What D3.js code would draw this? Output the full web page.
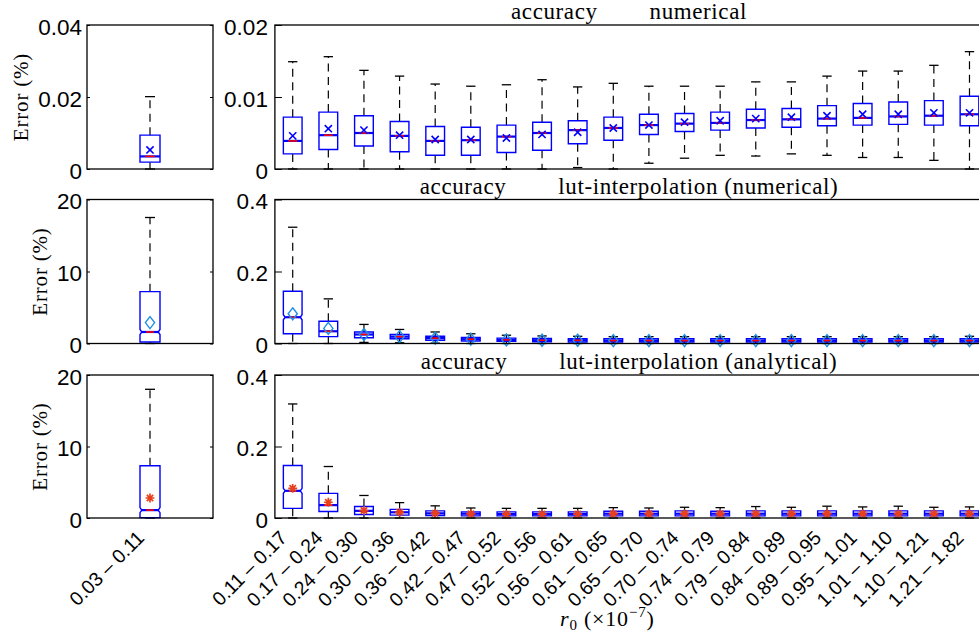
<!DOCTYPE html>
<html><head><meta charset="utf-8">
<script src="https://cdn.jsdelivr.net/npm/d3@7"></script>
<style>body{margin:0;background:#fff;overflow:hidden} svg{display:block}</style>
</head><body><svg id="c" width="979" height="635"></svg>
<script>
// ---------- data ----------
const categories = ["0.11 – 0.17","0.17 – 0.24","0.24 – 0.30","0.30 – 0.36","0.36 – 0.42","0.42 – 0.47","0.47 – 0.52","0.52 – 0.56","0.56 – 0.61","0.61 – 0.65","0.65 – 0.70","0.70 – 0.74","0.74 – 0.79","0.79 – 0.84","0.84 – 0.89","0.89 – 0.95","0.95 – 1.01","1.01 – 1.10","1.10 – 1.21","1.21 – 1.82"];
const leftCategories = ["0.03 – 0.11"];
const methods = ["numerical", "lut-interpolation (numerical)", "lut-interpolation (analytical)"];

// row 1: numerical (right panel)
const numUpper  = [0.0149,0.0156,0.0137,0.0129,0.0118,0.0115,0.0117,0.0124,0.0114,0.0119,0.0115,0.0115,0.0115,0.0121,0.0121,0.0129,0.0136,0.0136,0.0144,0.0163];
const numQ3     = [0.0072,0.0079,0.0074,0.0066,0.0059,0.0058,0.0061,0.0065,0.0067,0.0072,0.0076,0.0077,0.0079,0.0083,0.0084,0.0088,0.0091,0.0093,0.0095,0.0101];
const numMedian = [0.0039,0.0047,0.0050,0.0046,0.0039,0.0040,0.0045,0.0050,0.0054,0.0057,0.0061,0.0063,0.0064,0.0068,0.0069,0.0070,0.0071,0.0073,0.0074,0.0076];
const numQ1     = [0.0021,0.0027,0.0032,0.0024,0.0019,0.0019,0.0023,0.0026,0.0035,0.0040,0.0048,0.0052,0.0054,0.0057,0.0058,0.0060,0.0061,0.0062,0.0061,0.0060];
const numLower  = [0,0,0,0,0,0,0,0,0.0002,0,0.0008,0.0015,0.0019,0.0018,0.0021,0.0019,0.0016,0.0016,0.0012,0];
const numMean   = [0.0046,0.0056,0.0054,0.0047,0.0041,0.0041,0.0043,0.0048,0.0051,0.0057,0.0061,0.0065,0.0067,0.0070,0.0072,0.0074,0.0076,0.0076,0.0078,0.0078];
// row 1: left panel [upper, q3, median, q1, lower, mean]
const numLeft = [0.0201, 0.0094, 0.0035, 0.0019, 0, 0.0053];

// row 2: lut-interpolation (numerical)
const lutNumUpper  = [0.323,0.124,0.053,0.039,0.032,0.027,0.023,0.021,0.020,0.019,0.019,0.019,0.019,0.019,0.019,0.019,0.019,0.019,0.019,0.020];
const lutNumQ3     = [0.145,0.062,0.032,0.025,0.020,0.017,0.015,0.014,0.013,0.013,0.013,0.013,0.013,0.013,0.013,0.013,0.013,0.013,0.013,0.013];
const lutNumMedian = [0.073,0.034,0.025,0.019,0.015,0.012,0.010,0.009,0.009,0.008,0.008,0.008,0.008,0.008,0.008,0.008,0.008,0.008,0.008,0.008];
const lutNumQ1     = [0.027,0.019,0.016,0.013,0.009,0.007,0.006,0.005,0.004,0.004,0.004,0.004,0.004,0.004,0.004,0.004,0.004,0.004,0.004,0.004];
const lutNumLower  = [0,0,0.003,0.002,0.001,0,0,0,0,0,0,0,0,0,0,0,0,0,0,0];
const lutNumMean   = [0.0825,0.042,0.025,0.019,0.015,0.012,0.010,0.009,0.009,0.008,0.008,0.008,0.008,0.008,0.008,0.008,0.008,0.008,0.008,0.008];
const lutNumLeft = [17.5, 7.2, 1.6, 0.2, 0, 2.9];

// row 3: lut-interpolation (analytical)
const lutAnaUpper  = [0.319,0.144,0.063,0.043,0.034,0.028,0.027,0.027,0.027,0.029,0.028,0.030,0.029,0.032,0.030,0.033,0.031,0.033,0.030,0.031];
const lutAnaQ3     = [0.147,0.069,0.032,0.024,0.020,0.017,0.017,0.017,0.017,0.019,0.019,0.020,0.019,0.020,0.020,0.020,0.020,0.020,0.020,0.020];
const lutAnaMedian = [0.076,0.036,0.020,0.016,0.013,0.012,0.011,0.011,0.011,0.012,0.012,0.012,0.012,0.012,0.012,0.012,0.012,0.012,0.012,0.012];
const lutAnaQ1     = [0.027,0.018,0.010,0.008,0.007,0.006,0.006,0.006,0.006,0.006,0.006,0.006,0.006,0.006,0.006,0.006,0.006,0.006,0.006,0.006];
const lutAnaLower  = [0,0,0,0,0,0,0,0,0,0,0,0,0,0,0,0,0,0,0,0];
const lutAnaMean   = [0.083,0.044,0.021,0.016,0.013,0.012,0.011,0.011,0.011,0.012,0.012,0.012,0.012,0.012,0.012,0.012,0.012,0.012,0.012,0.012];
const lutAnaLeft = [18.0, 7.3, 1.1, 0.05, 0, 2.8];

const leftTicks  = [[0,0.02,0.04],[0,10,20],[0,10,20]];
const rightTicks = [[0,0.01,0.02],[0,0.2,0.4],[0,0.2,0.4]];

// ---------- build ----------
const svg = d3.select("#c");
const BLUE = "#0000ff", RED = "#ff0000", DIAM = "#1f8fe6", AST = "#e8401c";
const SANS = "'Liberation Sans', Arial, sans-serif";
const SERIF = "'Liberation Serif', 'Times New Roman', serif";

const rows = [
  {top:25,   bottom:169, marker:"x",   notch:false, method:methods[0],
   right:[numUpper,numQ3,numMedian,numQ1,numLower,numMean], left:numLeft},
  {top:199.5,bottom:343.5, marker:"d", notch:true, method:methods[1],
   right:[lutNumUpper,lutNumQ3,lutNumMedian,lutNumQ1,lutNumLower,lutNumMean], left:lutNumLeft},
  {top:375,  bottom:518, marker:"*",   notch:true, method:methods[2],
   right:[lutAnaUpper,lutAnaQ3,lutAnaMedian,lutAnaQ1,lutAnaLower,lutAnaMean], left:lutAnaLeft}
];

const xR = d3.scaleBand().domain(categories).range([274.9, 987.3]).padding(0);
const xL = d3.scaleBand().domain(leftCategories).range([87, 213]).padding(0);
const fmt = d => d === 0 ? "0" : String(d);

function drawMarker(g, type, cx, cy) {
  if (type === "x") {
    const r = 3.6;
    g.append("path").attr("d", `M${cx-r},${cy-r}L${cx+r},${cy+r}M${cx-r},${cy+r}L${cx+r},${cy-r}`)
      .attr("stroke", BLUE).attr("stroke-width", 1.6).attr("fill", "none");
  } else if (type === "d") {
    const rx = 4.6, ry = 6;
    g.append("path").attr("d", `M${cx},${cy-ry}L${cx+rx},${cy}L${cx},${cy+ry}L${cx-rx},${cy}Z`)
      .attr("stroke", DIAM).attr("stroke-width", 1.4).attr("fill", "none");
  } else {
    const r = 4.4, r2 = r*0.72;
    g.append("path").attr("d", `M${cx},${cy-r}L${cx},${cy+r}M${cx-r},${cy}L${cx+r},${cy}M${cx-r2},${cy-r2}L${cx+r2},${cy+r2}M${cx-r2},${cy+r2}L${cx+r2},${cy-r2}`)
      .attr("stroke", AST).attr("stroke-width", 1.7).attr("fill", "none");
  }
}

function drawBox(g, cx, w, y, s, row) {
  const [up, q3, med, q1, lo, mean] = s;
  const capW = w * 0.5;
  const dash = "8,5.5";
  g.append("line").attr("x1", cx).attr("x2", cx).attr("y1", y(q3)).attr("y2", y(up))
    .attr("stroke", "#000").attr("stroke-width", 1.2).attr("stroke-dasharray", dash);
  g.append("line").attr("x1", cx).attr("x2", cx).attr("y1", y(q1)).attr("y2", y(lo))
    .attr("stroke", "#000").attr("stroke-width", 1.2).attr("stroke-dasharray", dash);
  g.append("line").attr("x1", cx-capW/2).attr("x2", cx+capW/2).attr("y1", y(up)).attr("y2", y(up))
    .attr("stroke", "#000").attr("stroke-width", 1.3);
  g.append("line").attr("x1", cx-capW/2).attr("x2", cx+capW/2).attr("y1", y(lo)).attr("y2", y(lo))
    .attr("stroke", "#000").attr("stroke-width", 1.3);
  const xl = cx - w/2, xr = cx + w/2;
  const yt = y(q3), yb = y(q1), ym = y(med);
  let ni = 0;
  let d;
  if (row.notch && (yb - yt) > 30) {
    const nh = Math.min(2.5, ym - yt, yb - ym);
    ni = 1.8;
    d = `M${xl},${yb}L${xl},${ym+nh}L${xl+ni},${ym}L${xl},${ym-nh}L${xl},${yt}L${xr},${yt}L${xr},${ym-nh}L${xr-ni},${ym}L${xr},${ym+nh}L${xr},${yb}Z`;
  } else {
    d = `M${xl},${yb}L${xl},${yt}L${xr},${yt}L${xr},${yb}Z`;
  }
  g.append("path").attr("d", d).attr("fill", "none").attr("stroke", BLUE).attr("stroke-width", 1.4);
  g.append("line").attr("x1", xl+ni).attr("x2", xr-ni).attr("y1", ym).attr("y2", ym)
    .attr("stroke", BLUE).attr("stroke-width", 2.2);
  const rw = (w - 2*ni) * 0.48;
  g.append("line").attr("x1", cx-rw/2).attr("x2", cx+rw/2).attr("y1", ym).attr("y2", ym)
    .attr("stroke", RED).attr("stroke-width", 1.6);
  drawMarker(g, row.marker, cx, y(mean));
}

function styleAxisText(sel) {
  sel.selectAll("text").attr("font-family", SANS).attr("font-size", 22.5).attr("fill", "#000").attr("dy", "0.42em");
  sel.selectAll("line").attr("stroke", "#000").attr("stroke-width", 1);
  sel.select(".domain").remove();
}

rows.forEach((row, i) => {
  const yl = d3.scaleLinear().domain([0, leftTicks[i][2]]).range([row.bottom, row.top]);
  const gl = svg.append("g");
  drawBox(gl, xL(leftCategories[0]) + xL.bandwidth()/2, 20, yl, row.left, row);
  gl.append("g").attr("transform", `translate(87,0)`)
    .call(d3.axisLeft(yl).tickValues(leftTicks[i]).tickFormat(fmt).tickSizeInner(-3).tickSizeOuter(0).tickPadding(5))
    .call(styleAxisText);
  gl.append("g").attr("transform", `translate(213,0)`)
    .call(d3.axisRight(yl).tickValues(leftTicks[i]).tickFormat("").tickSizeInner(-3).tickSizeOuter(0))
    .call(styleAxisText);
  gl.append("rect").attr("x", 87).attr("y", row.top).attr("width", 126).attr("height", row.bottom - row.top)
    .attr("fill", "none").attr("stroke", "#000").attr("stroke-width", 1.3);

  const yr = d3.scaleLinear().domain([0, rightTicks[i][2]]).range([row.bottom, row.top]);
  const gr = svg.append("g");
  const bw = xR.bandwidth() * 0.525;
  categories.forEach((c, j) => {
    const s = row.right.map(arr => arr[j]);
    drawBox(gr, xR(c) + xR.bandwidth()/2, bw, yr, s, row);
  });
  gr.append("g").attr("transform", `translate(274.9,0)`)
    .call(d3.axisLeft(yr).tickValues(rightTicks[i]).tickFormat(fmt).tickSizeInner(-7).tickSizeOuter(0).tickPadding(7))
    .call(styleAxisText);
  gr.append("rect").attr("x", 274.9).attr("y", row.top).attr("width", 987.3 - 274.9).attr("height", row.bottom - row.top)
    .attr("fill", "none").attr("stroke", "#000").attr("stroke-width", 1.3);

  const tg = svg.append("g").attr("font-family", SERIF).attr("font-size", 23).attr("letter-spacing", "0.6px").attr("fill", "#000");
  const t1 = tg.append("text").attr("y", row.top - 6).text("accuracy");
  const t2 = tg.append("text").attr("y", row.top - 6).text(row.method);
  const w1 = t1.node().getComputedTextLength(), w2 = t2.node().getComputedTextLength();
  const gap = 52, total = w1 + gap + w2, start = 629 - total/2;
  t1.attr("x", start);
  t2.attr("x", start + w1 + gap);

  const lx = i === 0 ? 21 : 40;
  const cy = (row.top + row.bottom) / 2;
  svg.append("text").attr("transform", `translate(${lx + 7},${cy}) rotate(-90)`)
    .attr("text-anchor", "middle").attr("font-family", SERIF).attr("font-size", 21)
    .attr("letter-spacing", "0.8px").attr("fill", "#000").text("Error (%)");
});

const xlab = svg.append("g").attr("font-family", SANS).attr("font-size", 19.5).attr("fill", "#000");
categories.forEach(c => {
  const cx = xR(c) + xR.bandwidth()/2;
  xlab.append("text").attr("text-anchor", "end")
    .attr("transform", `translate(${cx - 4.5},${518 + 21}) rotate(-45)`).text(c);
});
leftCategories.forEach(c => {
  const cx = xL(c) + xL.bandwidth()/2;
  xlab.append("text").attr("text-anchor", "end")
    .attr("transform", `translate(${cx - 4.5},${518 + 21}) rotate(-45)`).text(c);
});

const xt = svg.append("text").attr("x", 560).attr("y", 626).attr("font-family", SERIF).attr("font-size", 22)
  .attr("letter-spacing", "0.8px").attr("fill", "#000");
xt.append("tspan").attr("font-style", "italic").text("r");
xt.append("tspan").attr("font-size", 15).attr("dy", 4).text("0");
xt.append("tspan").attr("dy", -4).text(" (×10");
xt.append("tspan").attr("font-size", 15).attr("dy", -9).text("−7");
xt.append("tspan").attr("dy", 9).text(")");
</script>
</body></html>
